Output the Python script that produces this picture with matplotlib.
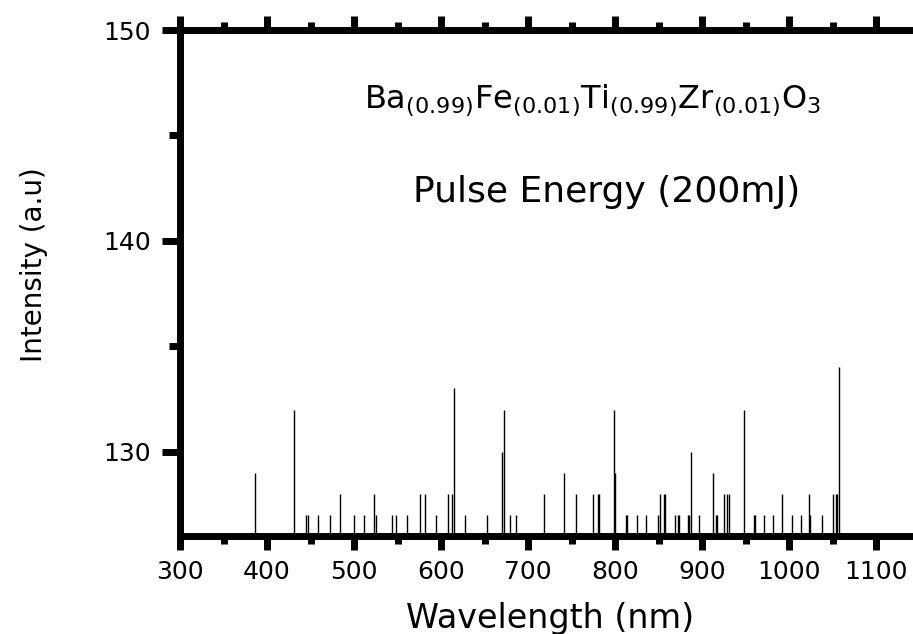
import matplotlib
matplotlib.use("Agg")
import matplotlib.pyplot as plt
from matplotlib.ticker import MultipleLocator

# emission lines (nm, a.u.)
wavelength = [385.8, 430.6, 445.0, 446.5, 458.7, 472.4, 484.0, 499.6, 511.8, 523.0,
              525.0, 543.0, 548.5, 561.0, 576.0, 581.6, 593.5, 608.4, 613.0, 615.0,
              627.6, 652.5, 670.0, 672.4, 679.0, 685.6, 718.0, 741.0, 754.6, 774.5,
              779.6, 781.0, 799.0, 800.2, 811.8, 813.2, 824.7, 835.6, 848.6, 851.7,
              855.5, 857.5, 869.0, 872.5, 873.7, 883.0, 884.5, 887.0, 896.0, 911.8,
              916.0, 917.2, 924.8, 928.7, 930.6, 948.0, 958.9, 960.9, 970.5, 981.0,
              991.0, 1003.0, 1013.3, 1022.2, 1024.0, 1037.5, 1050.0, 1053.6, 1055.0, 1056.7]
intensity = [129, 132, 127, 127, 127, 127, 128, 127, 127, 128,
             127, 127, 127, 127, 128, 128, 127, 128, 128, 133,
             127, 127, 130, 132, 127, 127, 128, 129, 128, 128,
             128, 128, 132, 129, 127, 127, 127, 127, 127, 128,
             128, 128, 127, 127, 127, 127, 127, 130, 127, 129,
             127, 127, 128, 128, 128, 132, 127, 127, 127, 127,
             128, 127, 127, 128, 127, 127, 128, 128, 128, 134]
baseline = 126

x_range = (300, 1150)
y_range = (126, 150)

formula = r"$\mathrm{Ba}_{(0.99)}\mathrm{Fe}_{(0.01)}\mathrm{Ti}_{(0.99)}\mathrm{Zr}_{(0.01)}\mathrm{O}_{3}$"
subtitle = "Pulse Energy (200mJ)"

W, H = 913, 634
fig = plt.figure(figsize=(W / 100, H / 100), dpi=100)
ax = fig.add_axes([180 / W, 1 - 536 / H, 740 / W, 506 / H])

ax.vlines(wavelength, baseline, intensity, color="black", linewidth=1.0)

ax.set_xlim(*x_range)
ax.set_ylim(*y_range)
ax.xaxis.set_major_locator(MultipleLocator(100))
ax.xaxis.set_minor_locator(MultipleLocator(50))
ax.yaxis.set_major_locator(MultipleLocator(10))
ax.yaxis.set_minor_locator(MultipleLocator(5))

for side in ["left", "bottom", "top", "right"]:
    ax.spines[side].set_linewidth(5)
ax.tick_params(which="both", direction="out", top=True, right=False, width=5)
ax.tick_params(axis="x", which="major", length=10, labelsize=18, pad=7)
ax.tick_params(axis="x", which="minor", length=6)
ax.tick_params(axis="y", which="major", length=13, labelsize=18, pad=8)
ax.tick_params(axis="y", which="minor", length=8)

ax.set_xlabel("Wavelength (nm)", fontsize=24)
ax.set_ylabel("Intensity (a.u)", fontsize=20)
ax.xaxis.set_label_coords(0.5, -0.13)
ax.yaxis.set_label_coords(-0.178, 0.537)

ax.text(0.558, 0.846, formula, transform=ax.transAxes, fontsize=23,
        ha="center", va="baseline")
ax.text(0.577, 0.660, subtitle, transform=ax.transAxes, fontsize=26,
        ha="center", va="baseline")

fig.savefig("out.png", dpi=100)
